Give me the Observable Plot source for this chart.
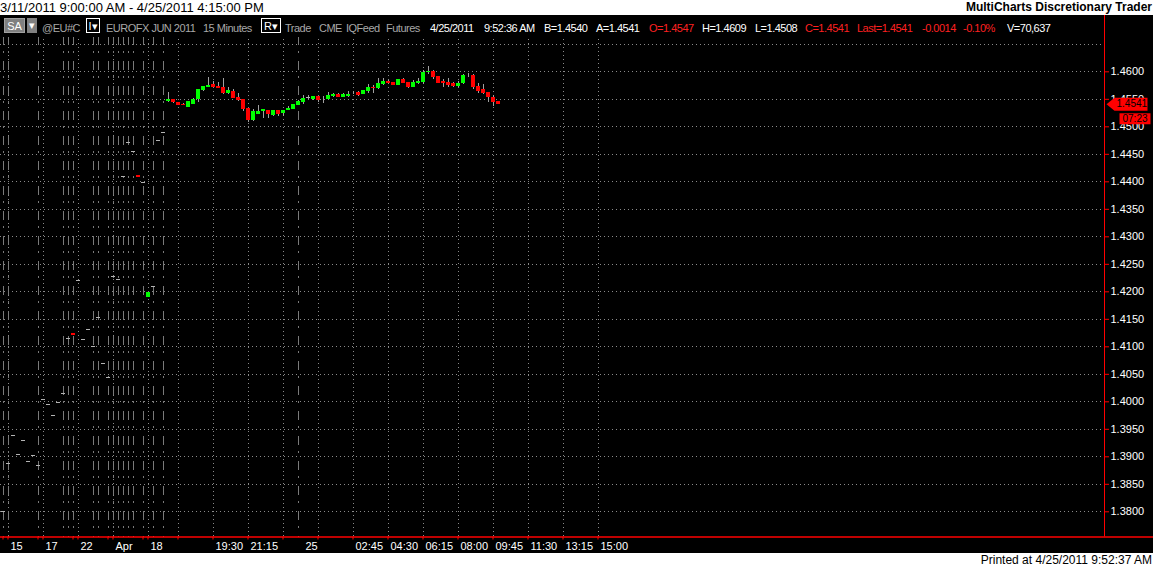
<!DOCTYPE html>
<html>
<head>
<meta charset="utf-8">
<script src="https://cdn.jsdelivr.net/npm/d3@7"></script>
<script src="https://cdn.jsdelivr.net/npm/@observablehq/plot@0.6"></script>
<style>
  html, body { margin:0; padding:0; background:#fff; width:1153px; height:567px; overflow:hidden;
    font-family:"Liberation Sans", Arial, sans-serif; }
  #title { position:relative; width:1153px; height:15px; background:#fff; color:#000; }
  #range { position:absolute; left:0; top:0; font-size:13px; line-height:15px; }
  #brand { position:absolute; right:1px; top:0; font-size:12px; line-height:15px; font-weight:bold; }
  #chart { position:relative; width:1153px; height:538px; background:#000; }
  #chart svg { display:block; }
  #hdr { position:absolute; left:0; top:0; width:1103px; height:22px; background:#000; font-size:11px; letter-spacing:-0.5px; }
  #hdr span { position:absolute; top:2px; line-height:22px; white-space:nowrap; }
  #hdr .box { position:absolute; top:3px; height:15px; line-height:15px; box-sizing:border-box; color:#fff; text-align:center; font-size:11px; letter-spacing:0; }
  #foot { position:relative; width:1153px; height:14px; background:#fff; }
  #foot span { position:absolute; right:1px; top:0; font-size:12px; line-height:14px; color:#000; }
</style>
</head>
<body>
<div id="title"><span id="range"></span><span id="brand"></span></div>
<div id="chart"><div id="hdr"></div></div>
<div id="foot"><span id="printed"></span></div>
<script>
// ---------------- data ----------------
const titleText = "3/11/2011 9:00:00 AM - 4/25/2011 4:15:00 PM";
const brandText = "MultiCharts Discretionary Trader";
const printedText = "Printed at 4/25/2011 9:52:37 AM";

// 15-minute bars, EUROFX JUN 2011 (index 0 = first visible bar)
const open = [
  1.3800,1.3887,1.3938,1.3905,1.3929,1.3891,1.3902,1.3884,1.4005,1.3995,
  1.3976,1.3998,1.4015,1.4116,1.4125,1.4220,1.4113,1.4131,1.4100,1.4153,
  1.4069,1.4045,1.4227,1.4222,1.4409,1.4471,1.4455,1.4412,1.4398,1.4190,
  1.4209,1.4476,1.4489,
  1.4546,1.4550,1.4545,1.4540,1.4536,1.4541,1.4549,1.4566,1.4572,1.4577,
  1.4573,1.4572,1.4561,1.4564,1.4553,1.4550,1.4533,1.4512,1.4523,1.4527,
  1.4530,1.4521,1.4529,1.4524,1.4529,1.4532,1.4539,1.4544,1.4553,1.4550,
  1.4555,1.4551,1.4550,1.4556,1.4559,1.4554,1.4556,1.4560,1.4562,1.4558,
  1.4564,1.4572,1.4570,1.4577,1.4582,1.4581,1.4575,1.4586,1.4581,1.4572,
  1.4579,1.4581,1.4598,1.4601,1.4591,1.4582,1.4581,1.4578,1.4573,1.4579,
  1.4593,1.4593,1.4573,1.4568,1.4562,1.4553,1.4546
];
const high = [
  1.3800,1.3887,1.3938,1.3905,1.3929,1.3891,1.3902,1.3884,1.4005,1.3995,
  1.3976,1.3998,1.4015,1.4116,1.4125,1.4220,1.4113,1.4131,1.4100,1.4153,
  1.4069,1.4045,1.4227,1.4222,1.4409,1.4471,1.4455,1.4412,1.4398,1.4199,
  1.4209,1.4476,1.4489,
  1.4562,1.4550,1.4545,1.4542,1.4546,1.4552,1.4568,1.4574,1.4590,1.4582,
  1.4581,1.4588,1.4571,1.4567,1.4561,1.4550,1.4533,1.4532,1.4539,1.4531,
  1.4530,1.4529,1.4529,1.4530,1.4537,1.4541,1.4547,1.4557,1.4557,1.4555,
  1.4555,1.4555,1.4562,1.4561,1.4561,1.4560,1.4564,1.4564,1.4564,1.4566,
  1.4577,1.4575,1.4588,1.4587,1.4585,1.4581,1.4586,1.4588,1.4581,1.4584,
  1.4587,1.4602,1.4609,1.4602,1.4591,1.4586,1.4588,1.4581,1.4582,1.4596,
  1.4597,1.4595,1.4579,1.4577,1.4562,1.4557,1.4546
];
const low = [
  1.3800,1.3887,1.3938,1.3905,1.3929,1.3891,1.3902,1.3884,1.4005,1.3995,
  1.3976,1.3998,1.4015,1.4116,1.4121,1.4220,1.4113,1.4131,1.4100,1.4153,
  1.4069,1.4045,1.4227,1.4222,1.4409,1.4471,1.4455,1.4408,1.4398,1.4190,
  1.4209,1.4476,1.4489,
  1.4545,1.4543,1.4538,1.4538,1.4536,1.4541,1.4545,1.4565,1.4572,1.4571,
  1.4570,1.4558,1.4558,1.4552,1.4546,1.4527,1.4508,1.4510,1.4523,1.4516,
  1.4515,1.4519,1.4518,1.4518,1.4529,1.4532,1.4539,1.4541,1.4550,1.4548,
  1.4544,1.4543,1.4550,1.4554,1.4553,1.4553,1.4554,1.4558,1.4556,1.4558,
  1.4561,1.4561,1.4568,1.4575,1.4577,1.4575,1.4575,1.4579,1.4570,1.4572,
  1.4577,1.4577,1.4596,1.4586,1.4579,1.4572,1.4572,1.4572,1.4572,1.4577,
  1.4589,1.4568,1.4561,1.4559,1.4544,1.4537,1.4541
];
const close = [
  1.3800,1.3887,1.3938,1.3905,1.3929,1.3891,1.3902,1.3884,1.4005,1.3995,
  1.3976,1.3998,1.4015,1.4116,1.4121,1.4220,1.4113,1.4131,1.4100,1.4153,
  1.4069,1.4045,1.4227,1.4222,1.4409,1.4471,1.4455,1.4408,1.4398,1.4199,
  1.4209,1.4476,1.4489,
  1.4550,1.4544,1.4538,1.4538,1.4546,1.4550,1.4568,1.4573,1.4575,1.4572,
  1.4570,1.4561,1.4566,1.4552,1.4548,1.4532,1.4512,1.4527,1.4527,1.4531,
  1.4522,1.4529,1.4523,1.4530,1.4534,1.4541,1.4546,1.4552,1.4553,1.4555,
  1.4548,1.4552,1.4557,1.4559,1.4554,1.4558,1.4559,1.4561,1.4557,1.4566,
  1.4571,1.4570,1.4579,1.4582,1.4579,1.4575,1.4586,1.4579,1.4572,1.4581,
  1.4582,1.4599,1.4600,1.4590,1.4579,1.4579,1.4575,1.4573,1.4579,1.4593,
  1.4594,1.4572,1.4564,1.4561,1.4553,1.4545,1.4541
];

const lastPrice = 1.4541;
const barTimer = "07:23";

// price axis
const priceLabels = [1.38,1.385,1.39,1.395,1.40,1.405,1.41,1.415,1.42,1.425,1.43,1.435,1.44,1.445,1.45,1.455,1.46];
const priceGrid = [...priceLabels, 1.465];

// time axis (in bar-index units)
const timeGrid = [1,8,15,22,29,35,42,49,56,63,70,77,84,91,98,105,112,119];
const sessionBreaks = [0,1,7,12,13,14,18,19,21,22,23,24,25,26,28,30,32,59];
const timeTicks = [0,1,7,8,14,15,21,22,28,29,35,42,49,56,63,70,77,84,91,98,105,112,119];
const timeLabels = ["15","17","22","Apr","18","19:30","21:15","25","02:45","04:30","06:15","08:00","09:45","11:30","13:15","15:00"];
const timeLabelAt = [1,8,15,22,29,42,49,60,70,77,84,91,98,105,112,119];

// header strings
const hdrText = ["@EU#C","EUROFX JUN 2011","15 Minutes","Trade","CME","IQFeed","Futures",
  "4/25/2011","9:52:36 AM","B=1.4540","A=1.4541","O=1.4547","H=1.4609","L=1.4508",
  "C=1.4541","Last=1.4541","-0.0014","-0.10%","V=70,637"];
const hdrKind = ["g","g","g","g","g","g","g","w","w","w","w","r","w","w","r","r","r","r","w"];

// ---------------- layout ----------------
const hdrLeft = [42,106,203,285,319,346,386,430,484,544,596,649,702,755,805,857,922,963,1007];
const kindColor = {g:"#a8a8a8", w:"#ffffff", r:"#ff2020"};

document.getElementById("range").textContent = titleText;
document.getElementById("brand").textContent = brandText;
document.getElementById("printed").textContent = printedText;

const hdr = document.getElementById("hdr");
hdrText.forEach((t, i) => {
  const s = document.createElement("span");
  s.textContent = t; s.style.left = hdrLeft[i] + "px"; s.style.color = kindColor[hdrKind[i]];
  hdr.appendChild(s);
});
function box(left, width, text, bg, border) {
  const b = document.createElement("div");
  b.className = "box"; b.textContent = text;
  b.style.left = left + "px"; b.style.width = width + "px";
  b.style.background = bg; b.style.border = border;
  hdr.appendChild(b);
}
box(4, 21, "SA", "#808080", "1px solid #a0a0a0");
box(27, 10, "▾", "#808080", "none");
box(86, 14, "I▾", "#000", "1px solid #fff");
box(261, 20, "R▾", "#000", "1px solid #fff");

// ---------------- chart ----------------
const bars = open.map((o, i) => ({i, o, h: high[i], l: low[i], c: close[i]}));
const colorOf = d => d.c > d.o ? "#00ff00" : d.c < d.o ? "#ff0000" : "#b4b4b4";
const W = 1153, H = 538, MR = 49;
const xDomain = [-0.5, 220.3];
const yDomain = [1.37542, 1.47024];

const markerShape = { draw(ctx) { ctx.moveTo(2,0); ctx.lineTo(10,-6.5); ctx.lineTo(43,-6.5); ctx.lineTo(43,6.5); ctx.lineTo(10,6.5); ctx.closePath(); } };
const timerShape = { draw(ctx) { ctx.rect(15,-5.5,31,11); } };

const chart = Plot.plot({
  width: W, height: H,
  marginLeft: 0, marginRight: MR, marginTop: 0, marginBottom: 16.5,
  style: {background:"#000", color:"#fff", overflow:"visible", fontFamily:"Liberation Sans, Arial, sans-serif", fontSize:"11px"},
  x: {type:"linear", domain: xDomain, axis: null},
  y: {domain: yDomain, axis: null},
  marks: [
    Plot.ruleY(priceGrid, {stroke:"#8a8a8a", strokeDasharray:"1,3", shapeRendering:"crispEdges"}),
    Plot.ruleX(timeGrid, {stroke:"#8a8a8a", strokeDasharray:"1,3", shapeRendering:"crispEdges"}),
    Plot.ruleX(sessionBreaks, {stroke:"#7a7a7a", strokeDasharray:"9,6,2,8", strokeDashoffset:4, shapeRendering:"crispEdges"}),
    Plot.ruleX(bars.filter(d => d.h > d.l), {x:"i", y1:"l", y2:"h", stroke:"#a0a0a0", shapeRendering:"crispEdges"}),
    Plot.rect(bars.filter(d => d.o !== d.c), {x1: d => d.i - 0.3, x2: d => d.i + 0.5, y1:"o", y2:"c", fill: colorOf, shapeRendering:"crispEdges"}),
    Plot.ruleY(bars.filter(d => d.o === d.c), {y:"c", x1: d => d.i - 0.3, x2: d => d.i + 0.5, stroke: colorOf, shapeRendering:"crispEdges"}),
    // axis lines
    Plot.ruleX([xDomain[1]], {stroke:"#ff0000"}),
    Plot.ruleY([yDomain[0]], {stroke:"#ff0000", strokeWidth:1.5, insetRight:-MR}),
    // price axis
    Plot.axisY(priceLabels, {anchor:"right", tickSize:4, tickPadding:2, stroke:"#ff0000", fill:"#fff", tickFormat: d3.format(".4f"), fontSize:11, label:null}),
    // time axis ticks and labels
    Plot.axisX(timeTicks, {anchor:"bottom", tickSize:3, stroke:"#ff0000", tickFormat: () => "", label:null}),
    Plot.text(timeLabels, {x: (d, i) => timeLabelAt[i], y: () => yDomain[0], dy: 9.5, dx: 2.5, textAnchor:"start", fill:"#fff", fontSize:11}),
    // last price marker
    Plot.dot([lastPrice], {y: d => d, frameAnchor:"right", symbol: markerShape, fill:"#ff0000", stroke:"none"}),
    Plot.text([lastPrice], {y: d => d, frameAnchor:"right", dx: 12, textAnchor:"start", text: d => d.toFixed(4), fill:"#000", fontSize:10}),
    Plot.dot([lastPrice], {y: d => d, frameAnchor:"right", dy: 14.5, symbol: timerShape, fill:"#ff0000", stroke:"none"}),
    Plot.text([lastPrice], {y: d => d, frameAnchor:"right", dx: 18, dy: 14.5, textAnchor:"start", text: () => barTimer, fill:"#000", fontSize:10})
  ]
});
document.getElementById("chart").insertBefore(chart, hdr);
</script>
</body>
</html>
